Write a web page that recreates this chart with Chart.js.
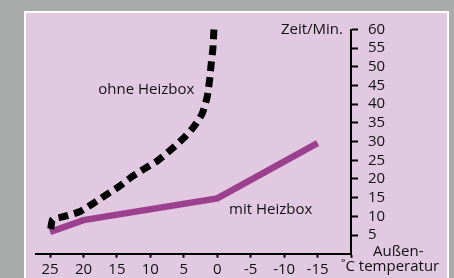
<!DOCTYPE html>
<html>
<head>
<meta charset="utf-8">
<script src="https://cdn.jsdelivr.net/npm/chart.js@4"></script>
<style>
  html, body { margin: 0; padding: 0; }
  body { width: 454px; height: 278px; background: #a9aaaa; position: relative; overflow: hidden; }
  #panel { position: absolute; left: 24px; top: 11px; width: 421px; height: 300px; border: 2px solid #ffffff; background: #e1c9e1; }
  #chart { position: absolute; left: 0; top: 0; }
</style>
</head>
<body>
<div id="panel"></div>
<canvas id="chart" width="454" height="278"></canvas>
<script>
// ============ DATA ============
const xTicks = [25, 20, 15, 10, 5, 0, -5, -10, -15, -20];
const yTicks = [5, 10, 15, 20, 25, 30, 35, 40, 45, 50, 55, 60];

// ohne Heizbox (Außentemperatur °C -> Zeit/Min.)
const ohneTemp = [24.9, 24.6, 23, 20.5, 18.5, 16.5, 14.75, 12.75, 11, 9, 7, 5, 3.5, 2.25, 1.5, 1.15, 0.9, 0.65, 0.5];
const ohneMin  = [6.6, 9.2, 9.9, 11.3, 13.5, 15.9, 17.9, 20.6, 22.6, 24.8, 27.7, 31, 34, 37.5, 42, 46.4, 50.9, 54.9, 60];

// mit Heizbox
const mitTemp = [25, 20, 0, -15];
const mitMin  = [5.8, 9.0, 14.8, 29.6];

const FONT = '"Open Sans", sans-serif';

// ============ TEXT LABELS ============
const textPlugin = {
    id: 'texts',
    afterDraw(chart) {
        const ctx = chart.ctx;
        const x = chart.scales.x, y = chart.scales.y;
        ctx.save();
        ctx.fillStyle = '#111';
        ctx.font = '15px ' + FONT;
        ctx.textBaseline = 'middle';

        ctx.textAlign = 'center';
        ctx.fillText('ohne Heizbox', x.getPixelForValue(10.6), y.getPixelForValue(44));
        ctx.fillText('mit Heizbox', x.getPixelForValue(-8), y.getPixelForValue(11.7));

        ctx.textAlign = 'right';
        ctx.fillText('Zeit/Min.', x.right - 8, y.getPixelForValue(60));

        ctx.textAlign = 'left';
        ctx.fillText('Außen-', x.right + 22, y.getPixelForValue(0) - 2);
        ctx.fillText('˚C temperatur', x.right - 10, y.getPixelForValue(0) + 13);
        ctx.restore();
    }
};

new Chart(document.getElementById('chart'), {
    type: 'line',
    data: {
        datasets: [
            {
                label: 'ohne Heizbox',
                data: ohneTemp.map((t, i) => ({ x: t, y: ohneMin[i] })),
                borderColor: '#000000',
                borderWidth: 7,
                borderDash: [10, 6],
                borderCapStyle: 'butt',
                pointRadius: 0,
                tension: 0.2
            },
            {
                label: 'mit Heizbox',
                data: mitTemp.map((t, i) => ({ x: t, y: mitMin[i] })),
                borderColor: '#9c3f8e',
                borderWidth: 6.5,
                borderCapStyle: 'butt',
                pointRadius: 0,
                tension: 0
            }
        ]
    },
    options: {
        responsive: false,
        devicePixelRatio: 1,
        animation: false,
        clip: false,
        layout: { padding: { left: 36, top: 29.5, right: 0, bottom: 0 } },
        plugins: { legend: { display: false }, tooltip: { enabled: false } },
        scales: {
            x: {
                type: 'linear',
                reverse: true,
                min: -20,
                max: 27.1,
                afterBuildTicks: s => { s.ticks = xTicks.map(v => ({ value: v })); },
                afterFit: s => { s.height = 278 - 253.7; },
                grid: { drawOnChartArea: false, tickLength: 4, tickWidth: 2, tickColor: '#000' },
                border: { display: true, color: '#000', width: 2 },
                ticks: {
                    padding: 3,
                    color: '#111',
                    font: { family: FONT, size: 15 },
                    maxRotation: 0,
                    autoSkip: false,
                    callback: v => (v === -20 ? '' : String(v))
                }
            },
            y: {
                position: 'right',
                min: 0,
                max: 60,
                afterBuildTicks: s => { s.ticks = yTicks.map(v => ({ value: v })); },
                afterFit: s => { s.width = 454 - 351; },
                grid: { drawOnChartArea: false, tickLength: 7, tickWidth: 2, tickColor: '#000' },
                border: { display: true, color: '#000', width: 2 },
                ticks: {
                    padding: 10,
                    color: '#111',
                    font: { family: FONT, size: 15 },
                    autoSkip: false
                }
            }
        }
    },
    plugins: [textPlugin]
});
</script>
</body>
</html>
